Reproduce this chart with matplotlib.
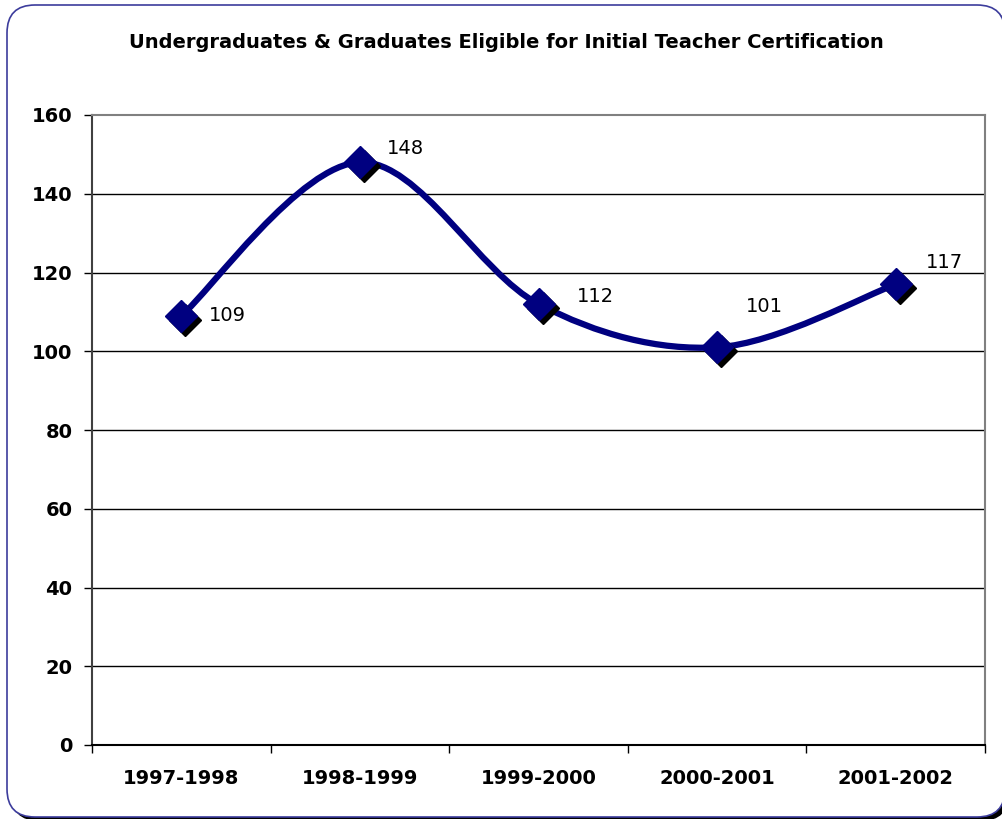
import numpy as np
import matplotlib
matplotlib.use("Agg")
import matplotlib.pyplot as plt
from matplotlib.patches import FancyBboxPatch, PathPatch
from matplotlib.path import Path
from matplotlib.transforms import offset_copy

years = ["1997-1998", "1998-1999", "1999-2000", "2000-2001", "2001-2002"]
eligible = [109, 148, 112, 101, 117]
title = "Undergraduates & Graduates Eligible for Initial Teacher Certification"

NAVY = "#000080"
W, H = 1003, 819

fig = plt.figure(figsize=(W / 100, H / 100), dpi=100)

# background layer in pixel units for the rounded frame
bg = fig.add_axes([0, 0, 1, 1])
bg.set_xlim(0, W)
bg.set_ylim(H, 0)
bg.axis("off")
bg.add_patch(FancyBboxPatch((11, 9), 998, 812,
                            boxstyle="round,pad=0,rounding_size=28",
                            facecolor="black", edgecolor="none", zorder=0))
bg.add_patch(FancyBboxPatch((7, 5), 998, 812,
                            boxstyle="round,pad=0,rounding_size=28",
                            facecolor="white", edgecolor="#3c3c9c",
                            linewidth=1.2, zorder=1))

ax = fig.add_axes([92 / W, 1 - 745 / H, 893 / W, 630 / H])
ax.patch.set_alpha(0)

x = np.arange(len(years))
y = np.array(eligible, dtype=float)

# smoothed curve: Catmull-Rom tangents turned into cubic Bezier segments
verts = [(x[0], y[0])]
codes = [Path.MOVETO]
n = len(x)
for i in range(n - 1):
    p0 = np.array([x[max(i - 1, 0)], y[max(i - 1, 0)]])
    p1 = np.array([x[i], y[i]])
    p2 = np.array([x[i + 1], y[i + 1]])
    p3 = np.array([x[min(i + 2, n - 1)], y[min(i + 2, n - 1)]])
    c1 = p1 + (p2 - p0) / 6
    c2 = p2 - (p3 - p1) / 6
    verts += [tuple(c1), tuple(c2), tuple(p2)]
    codes += [Path.CURVE4] * 3
ax.add_patch(PathPatch(Path(verts, codes), facecolor="none", edgecolor=NAVY,
                       linewidth=4.5, capstyle="round", zorder=3))

# diamond markers with an offset black shadow
shadow_tr = offset_copy(ax.transData, fig=fig, x=4, y=-4, units="dots")
ax.plot(x, y, linestyle="none", marker="D", markersize=16.5, color="black",
        transform=shadow_tr, zorder=4)
ax.plot(x, y, linestyle="none", marker="D", markersize=16.5, color=NAVY,
        zorder=5)

label_offsets = [(28, 0), (27, 14), (38, 8), (29, 41), (30, 22)]
for xi, yi, (dx, dy) in zip(x, eligible, label_offsets):
    ax.annotate(str(yi), (xi, yi), xytext=(dx, dy), textcoords="offset pixels",
                ha="left", va="center", fontsize=14, color="black", zorder=6)

ax.set_xlim(-0.5, len(years) - 0.5)
ax.set_ylim(0, 160)
ax.set_yticks(np.arange(0, 161, 20))
ax.set_yticklabels([str(v) for v in range(0, 161, 20)], fontsize=14,
                   fontweight="bold")
ax.set_xticks(x)
ax.set_xticklabels(years, fontsize=14, fontweight="bold")
ax.tick_params(axis="x", length=0, pad=17)
ax.set_xticks(np.arange(-0.5, len(years)), minor=True)
ax.tick_params(axis="x", which="minor", length=6, width=1, color="black",
               direction="out")
ax.tick_params(axis="y", length=6, width=1, direction="out", pad=8)

for v in range(20, 160, 20):
    ax.axhline(v, color="black", linewidth=1, zorder=1)

ax.spines["left"].set_color("#404040")
ax.spines["bottom"].set_color("black")
ax.spines["top"].set_color("#808080")
ax.spines["right"].set_color("#808080")
for s in ax.spines.values():
    s.set_linewidth(1.5)

fig.text(506 / W, 1 - 48 / H, title, ha="center", va="baseline",
         fontsize=14, fontweight="bold")

fig.savefig("out.png", dpi=100)
